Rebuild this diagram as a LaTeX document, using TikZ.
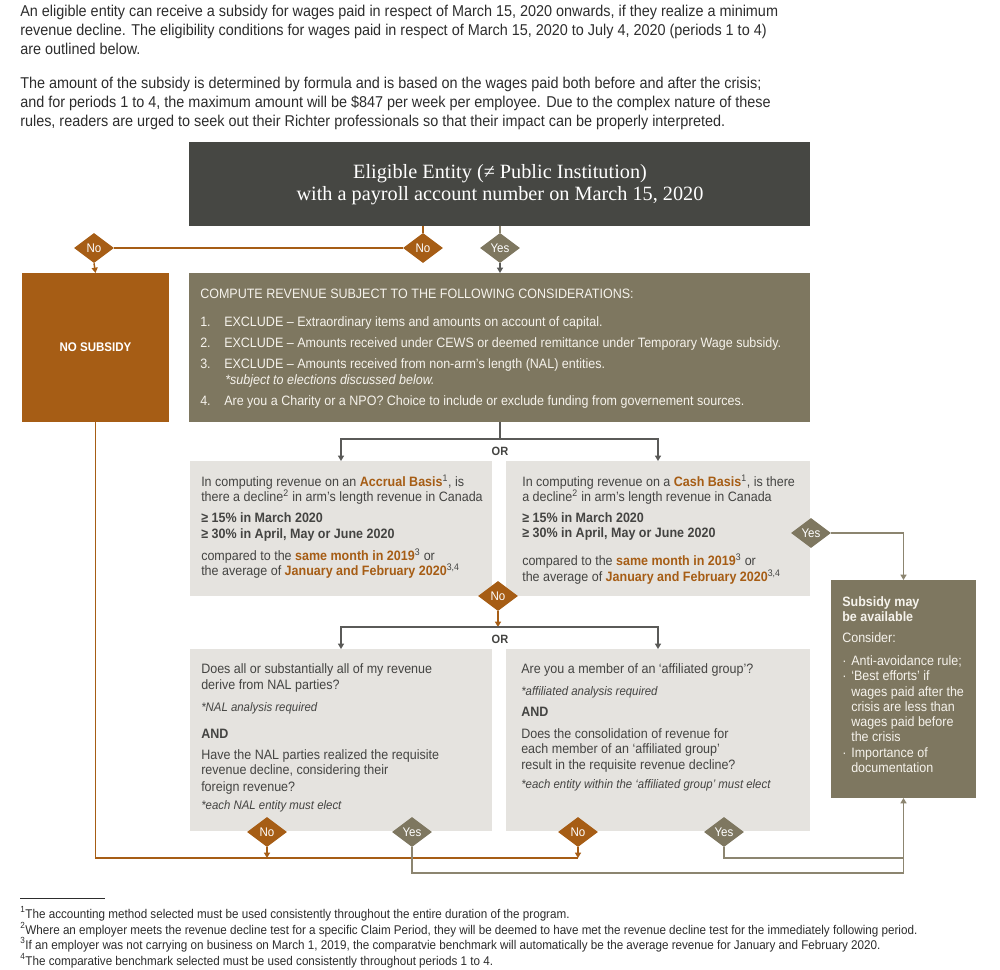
\documentclass[tikz,border=0pt]{standalone}
\usepackage{fontspec}
\setmainfont{Liberation Sans}[FakeStretch=0.92]
\newfontfamily\hdserif{Liberation Serif}
\usetikzlibrary{shapes.geometric,arrows.meta,fit}
\definecolor{hdrc}{RGB}{70,71,67}
\definecolor{olive}{RGB}{126,119,96}
\definecolor{orng}{RGB}{166,93,21}
\definecolor{lgray}{RGB}{229,227,223}
\definecolor{dtxt}{RGB}{68,68,66}
\definecolor{toptxt}{RGB}{45,45,45}
\definecolor{ltxt}{RGB}{246,243,236}
\definecolor{dlinec}{RGB}{90,90,88}
\definecolor{ylinec}{RGB}{140,133,112}
\newcommand\fsTop{\fontsize{11.75pt}{14pt}\selectfont}
\newcommand\fsBox{\fontsize{10.2pt}{12pt}\selectfont}
\newcommand\fsNote{\fontsize{9.3pt}{11pt}\selectfont\itshape}
\newcommand\fsFn{\fontsize{9.5pt}{11pt}\selectfont}
\newcommand\fsHd{\hdserif\fontsize{15.2pt}{17pt}\selectfont}
\newcommand\fsDia{\fontsize{9.4pt}{11pt}\selectfont}
\newcommand\orhl[1]{\textcolor{orng}{\bfseries #1}}
\newcommand\sps[1]{\textsuperscript{#1}}
\newcommand\TL[5][]{\node[txt,#1] (#2) at (#3,#4) {#5};}
\tikzset{
  >={Triangle[length=4pt,width=4.5pt]},
  box/.style={inner sep=0, outer sep=0, draw=none},
  txt/.style={inner sep=0, anchor=base west, font=\fsBox, text=dtxt},
  ltx/.style={text=ltxt},
  note/.style={font=\fsNote},
  dia/.style={diamond, aspect=1.33, inner sep=0, minimum width=30pt, minimum height=22.5pt, text=white, font=\fsDia},
  odia/.style={dia, fill=orng},
  ydia/.style={dia, fill=olive},
  oline/.style={draw=orng, line width=1.1pt},
  dline/.style={draw=dlinec, line width=1pt},
  yline/.style={draw=ylinec, line width=1pt},
  ortxt/.style={font={\fontsize{9pt}{10pt}\selectfont\bfseries}, text=dtxt, inner sep=0},
}
\begin{document}
\begin{tikzpicture}[x=0.75pt,y=-0.75pt]
\path[use as bounding box, fill=white] (0,0) rectangle (1000,970);

% intro text
\TL[font=\fsTop,text=toptxt]{p1}{20}{17}{An eligible entity can receive a subsidy for wages paid in respect of March 15, 2020 onwards, if they realize a minimum}
\TL[font=\fsTop,text=toptxt]{p2}{20}{36}{revenue decline. The eligibility conditions for wages paid in respect of March 15, 2020 to July 4, 2020 (periods 1 to 4)}
\TL[font=\fsTop,text=toptxt]{p3}{20}{55}{are outlined below.}
\TL[font=\fsTop,text=toptxt]{p4}{20}{89}{The amount of the subsidy is determined by formula and is based on the wages paid both before and after the crisis;}
\TL[font=\fsTop,text=toptxt]{p5}{20}{108}{and for periods 1 to 4, the maximum amount will be \$847 per week per employee. Due to the complex nature of these}
\TL[font=\fsTop,text=toptxt]{p6}{20}{127}{rules, readers are urged to seek out their Richter professionals so that their impact can be properly interpreted.}

% boxes
\node[box, fill=hdrc, fit={(189,142) (810,226)}] (hdr) {};
\node[box, fill=orng, fit={(22,273) (169,422)}] (nosub) {};
\node[box, fill=olive, fit={(189,273) (810,422)}] (comp) {};
\node[box, fill=lgray, fit={(190,461) (492,596)}] (accr) {};
\node[box, fill=lgray, fit={(506,461) (810,596)}] (cash) {};
\node[box, fill=lgray, fit={(190,649) (492,831)}] (nal) {};
\node[box, fill=lgray, fit={(506,649) (810,831)}] (aff) {};
\node[box, fill=olive, fit={(831,580) (976,798)}] (subs) {};

% header text
\node[font=\fsHd, text=white, anchor=base, inner sep=0] (h1) at (500,179) {Eligible Entity (≠ Public Institution)};
\node[font=\fsHd, text=white, anchor=base, inner sep=0] (h2) at (500,201) {with a payroll account number on March 15, 2020};

\node[font={\fsDia\bfseries}, text=white, inner sep=0] (nst) at (nosub.center) {NO SUBSIDY};

% compute box text
\TL[ltx]{c0}{200}{298}{COMPUTE REVENUE SUBJECT TO THE FOLLOWING CONSIDERATIONS:}
\TL[ltx]{c1n}{200}{326}{1.}
\TL[ltx]{c1}{224}{326}{EXCLUDE – Extraordinary items and amounts on account of capital.}
\TL[ltx]{c2n}{200}{347}{2.}
\TL[ltx]{c2}{224}{347}{EXCLUDE – Amounts received under CEWS or deemed remittance under Temporary Wage subsidy.}
\TL[ltx]{c3n}{200}{368}{3.}
\TL[ltx]{c3}{224}{368}{EXCLUDE – Amounts received from non-arm’s length (NAL) entities.}
\TL[ltx,font=\fsBox\itshape]{c3b}{225}{384}{*subject to elections discussed below.}
\TL[ltx]{c4n}{200}{405}{4.}
\TL[ltx]{c4}{224}{405}{Are you a Charity or a NPO? Choice to include or exclude funding from governement sources.}

% accrual
\TL{a1}{201}{486.5}{In computing revenue on an \orhl{Accrual Basis}\sps{1}, is}
\TL{a2}{201}{501.5}{there a decline\sps{2} in arm’s length revenue in Canada}
\TL[font=\fsBox\bfseries]{a3}{201}{522.5}{≥ 15\% in March 2020}
\TL[font=\fsBox\bfseries]{a4}{201}{538.5}{≥ 30\% in April, May or June 2020}
\TL{a5}{201}{560.5}{compared to the \orhl{same month in 2019}\sps{3} or}
\TL{a6}{201}{575.5}{the average of \orhl{January and February 2020}\sps{3,4}}

% cash
\TL{b1}{522}{486.5}{In computing revenue on a \orhl{Cash Basis}\sps{1}, is there}
\TL{b2}{522}{501.5}{a decline\sps{2} in arm’s length revenue in Canada}
\TL[font=\fsBox\bfseries]{b3}{522}{522.5}{≥ 15\% in March 2020}
\TL[font=\fsBox\bfseries]{b4}{522}{537.5}{≥ 30\% in April, May or June 2020}
\TL{b5}{522}{565.5}{compared to the \orhl{same month in 2019}\sps{3} or}
\TL{b6}{522}{581.5}{the average of \orhl{January and February 2020}\sps{3,4}}

% NAL
\TL{n1}{201}{673.5}{Does all or substantially all of my revenue}
\TL{n2}{201}{689.5}{derive from NAL parties?}
\TL[note]{n3}{201}{711}{*NAL analysis required}
\TL[font=\fsBox\bfseries]{n4}{201}{738.5}{AND}
\TL{n5}{201}{759.5}{Have the NAL parties realized the requisite}
\TL{n6}{201}{774.5}{revenue decline, considering their}
\TL{n7}{201}{791.5}{foreign revenue?}
\TL[note]{n8}{201}{809.5}{*each NAL entity must elect}

% affiliated
\TL{f1}{521}{673.5}{Are you a member of an ‘affiliated group’?}
\TL[note]{f2}{521}{695}{*affiliated analysis required}
\TL[font=\fsBox\bfseries]{f3}{521}{716.5}{AND}
\TL{f4}{521}{738.5}{Does the consolidation of revenue for}
\TL{f5}{521}{753.5}{each member of an ‘affiliated group’}
\TL{f6}{521}{769.5}{result in the requisite revenue decline?}
\TL[note]{f7}{521}{788}{*each entity within the ‘affiliated group’ must elect}

% subsidy box
\TL[ltx,font=\fsBox\bfseries]{s1}{842}{606.5}{Subsidy may}
\TL[ltx,font=\fsBox\bfseries]{s2}{842}{621.5}{be available}
\TL[ltx]{s3}{842}{642.5}{Consider:}
\TL[ltx]{s4b}{842}{665.5}{·}
\TL[ltx]{s4}{851}{665.5}{Anti-avoidance rule;}
\TL[ltx]{s5b}{842}{680.5}{·}
\TL[ltx]{s5}{851}{680.5}{‘Best efforts’ if}
\TL[ltx]{s6}{851}{696.5}{wages paid after the}
\TL[ltx]{s7}{851}{711.5}{crisis are less than}
\TL[ltx]{s8}{851}{726.5}{wages paid before}
\TL[ltx]{s9}{851}{741.5}{the crisis}
\TL[ltx]{s10b}{842}{757.5}{·}
\TL[ltx]{s10}{851}{757.5}{Importance of}
\TL[ltx]{s11}{851}{772.5}{documentation}

% diamonds
\node[odia] (noA) at (94,248) {No};
\node[odia] (noB) at (423,248) {No};
\node[ydia] (yesA) at (500,248) {Yes};
\node[odia] (noC) at (498,596) {No};
\node[ydia] (yesF) at (811,533) {Yes};
\node[odia] (noD) at (267,832) {No};
\node[ydia] (yesD) at (412,832) {Yes};
\node[odia] (noE) at (578,832) {No};
\node[ydia] (yesE) at (724,832) {Yes};

% OR labels and junctions
\coordinate (j1) at (500,439);
\coordinate (j2) at (498,627);
\node[ortxt] (or1) at (500,451) {OR};
\node[ortxt] (or2) at (500,639) {OR};

% connectors
\draw[oline] (noB.north |- hdr.south) -- (noB.north);
\draw[yline] (yesA.north |- hdr.south) -- (yesA.north);
\draw[oline] (noA.east) -- (noB.west);
\draw[oline,->] (noA.south) -- (nosub.north);
\draw[dline,->] (yesA.south) -- (yesA.south |- comp.north);
\draw[dline] (comp.south -| j1) -- (j1);
\draw[dline,->] (j1) -| (accr.north);
\draw[dline,->] (j1) -| (cash.north);
\draw[oline,->] (noC.south) -- (j2);
\draw[dline,->] (j2) -| (nal.north);
\draw[dline,->] (j2) -| (aff.north);
\draw[yline,->] (yesF.east) -| (subs.north);
\coordinate (oc) at (578,858);
\draw[oline] (nosub.south) |- (oc);
\draw[oline,->] (noD.south) -- (noD.south |- oc);
\draw[oline,->] (noE.south) -- (oc);
\draw[yline] (yesE.south) |- (subs.south |- 0,858);
\draw[yline,->] (yesD.south) |- (subs.south |- 0,873) -- (subs.south);

% footnotes
\draw[draw=toptxt, line width=0.6pt] (20,898) -- (105,898);
\TL[font=\fsFn,text=toptxt]{fn1}{20}{918}{\sps{1}The accounting method selected must be used consistently throughout the entire duration of the program.}
\TL[font=\fsFn,text=toptxt]{fn2}{20}{934}{\sps{2}Where an employer meets the revenue decline test for a specific Claim Period, they will be deemed to have met the revenue decline test for the immediately following period.}
\TL[font=\fsFn,text=toptxt]{fn3}{20}{949}{\sps{3}If an employer was not carrying on business on March 1, 2019, the comparatvie benchmark will automatically be the average revenue for January and February 2020.}
\TL[font=\fsFn,text=toptxt]{fn4}{20}{965}{\sps{4}The comparative benchmark selected must be used consistently throughout periods 1 to 4.}
\end{tikzpicture}
\end{document}
